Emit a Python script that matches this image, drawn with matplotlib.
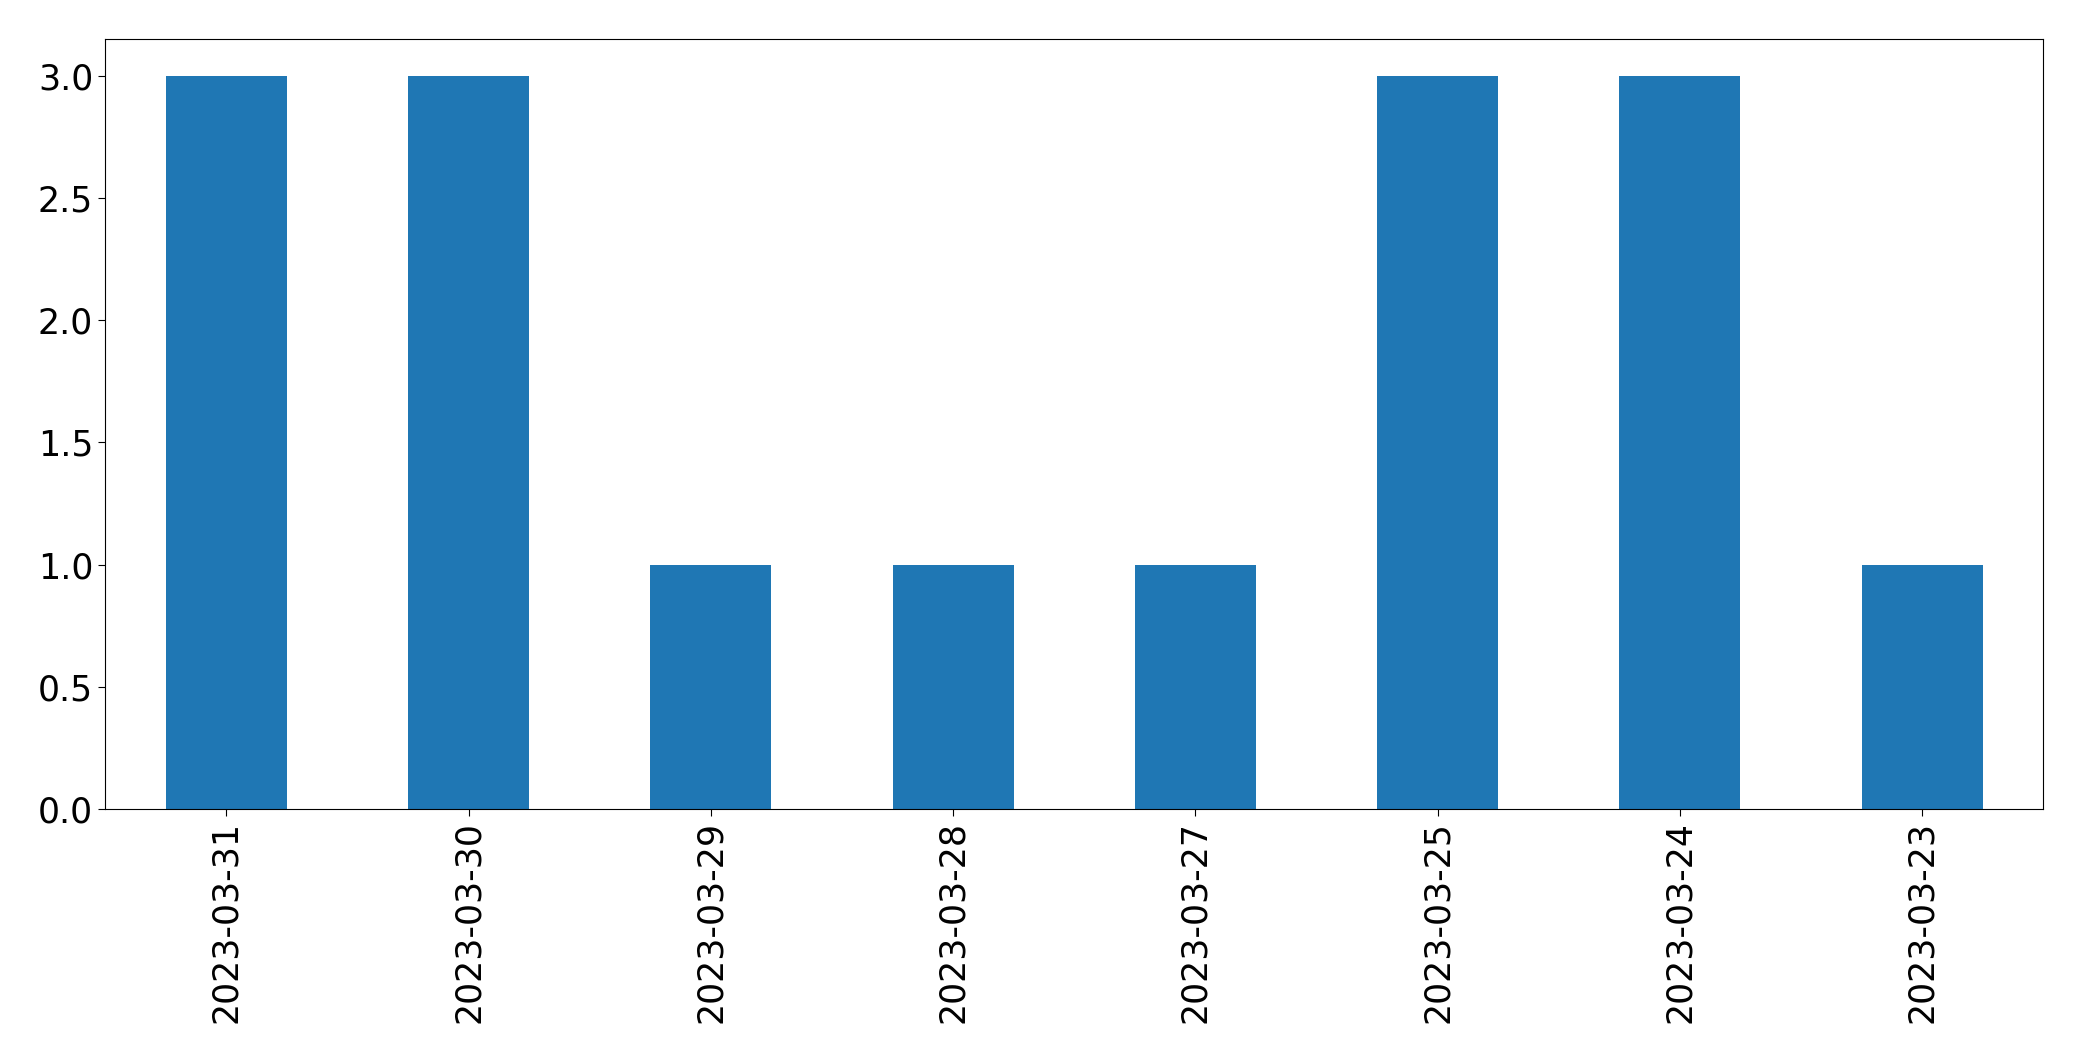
import matplotlib
matplotlib.use("Agg")
import matplotlib.pyplot as plt
import numpy as np

dates = ["2023-03-31", "2023-03-30", "2023-03-29", "2023-03-28",
         "2023-03-27", "2023-03-25", "2023-03-24", "2023-03-23"]
counts = [3, 3, 1, 1, 1, 3, 3, 1]

fig = plt.figure(figsize=(20.82, 10.61), dpi=100)
ax = fig.add_axes([105.3/2082, 1 - 809/1061, (2043.3-105.3)/2082, (809-39.3)/1061])

x = np.arange(len(dates))
ax.bar(x, counts, width=0.5, color='#1f77b4')
ax.set_xlim(-0.5, len(dates) - 0.5)
ax.set_ylim(0, 3.15)
ax.set_yticks([0.0, 0.5, 1.0, 1.5, 2.0, 2.5, 3.0])
ax.set_xticks(x)
ax.set_xticklabels(dates, rotation=90)
ax.tick_params(labelsize=25, length=5.3)

fig.savefig("out.png", dpi=100)
